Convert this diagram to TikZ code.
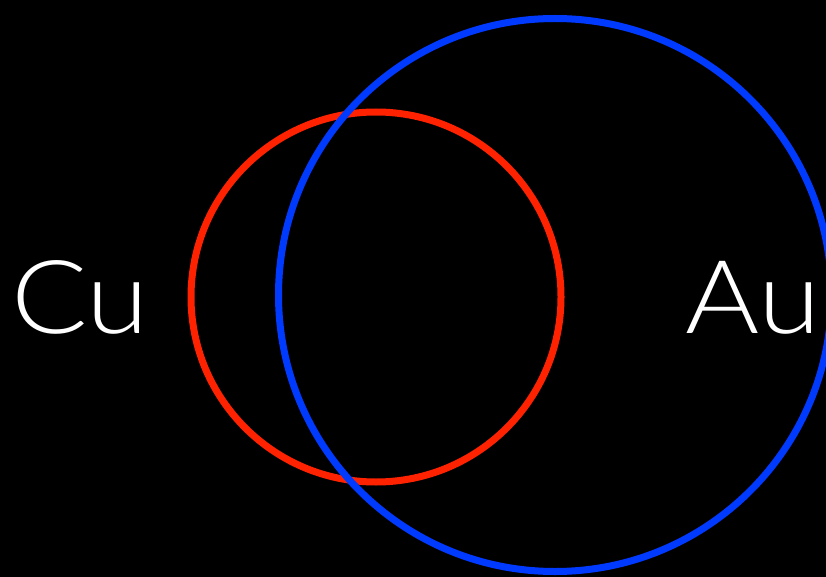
\documentclass[tikz,border=0pt]{standalone}
\usepackage{fontspec}
\setmainfont{Lato}[UprightFont=* Light,FakeStretch=1.11]
\definecolor{cred}{RGB}{255,34,0}
\definecolor{cblue}{RGB}{0,58,255}
\begin{document}
\begin{tikzpicture}[x=1pt,y=-1pt,
  ring/.style={line width=7pt},
  lbl/.style={text=white,inner sep=0pt,anchor=base west,font=\fontsize{102}{102}\selectfont}]
\path[fill=black,use as bounding box] (0,0) rectangle (826,577);
\begin{scope}
\clip (0,0) rectangle (826,577);
\draw[ring,cred] (376,297) circle[radius=185];
\draw[ring,cblue] (555,295) circle[radius=276.5];
\end{scope}
\node[lbl] (cu) at (11,333) {Cu};
\node[lbl] (au) at (685,333) {Au};
\end{tikzpicture}
\end{document}
